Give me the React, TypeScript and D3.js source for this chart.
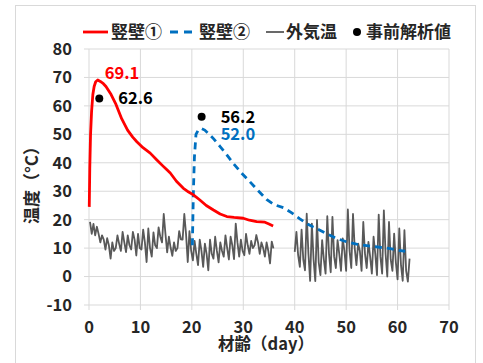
import React from "react";
import * as d3 from "d3";

// ---- data ----
const wall1: [number, number][] = [
  [0.05, 24.5], [0.15, 38], [0.3, 50], [0.5, 58], [0.75, 64], [1.0, 66.8], [1.3, 68.5], [1.7, 69.1],
  [2.2, 68.6], [2.8, 67.8], [3.3, 66.8], [4.3, 64], [5.25, 60.5], [6.35, 55.5], [7.5, 51.5], [8.5, 49],
  [9.3, 47.4], [10.5, 45.3], [11.9, 43.4], [13.2, 41], [14.3, 39], [15.1, 37.6], [15.8, 36.4], [17, 33.5],
  [18.3, 31.1], [19.3, 29.8], [20.3, 28.7], [21.5, 27], [22.8, 25], [24.2, 23.4], [25.5, 22], [26.8, 21.1],
  [28.2, 20.8], [30, 20.5], [31.2, 19.8], [32.6, 19.3], [34.2, 19.1], [35, 18.5], [35.8, 17.8],
];

const wall2: [number, number][] = [
  [20.1, 11], [20.3, 30], [20.5, 42], [20.8, 50], [21.3, 51.7], [21.9, 52.0], [22.5, 51.5], [23.5, 49.8],
  [24.2, 48.5], [25.5, 45.7], [26.5, 43.5], [28, 39.9], [29.6, 36.5], [31.3, 33.3], [33, 30], [34.6, 27],
  [36, 25.3], [37.8, 24.2], [39.5, 22.3], [41, 20.3], [42.5, 18.5], [43.6, 17.4], [45, 16.2], [46.2, 15.1],
  [48, 13.5], [50.1, 12.2], [52, 11.4], [54.7, 10.7], [56.5, 10.3], [58.6, 9.8], [60, 9.3], [61.5, 8.9],
];

// outside air temperature, sampled every 1/3 day
const airStep = 1 / 3;
const air1Start = 0.2;
const air1: number[] = [
  19.2, 15.0, 18.5, 14.5, 17.5, 15.0, 12.0, 14.5, 13.0, 9.5, 13.5, 11.0,
  6.3, 12.0, 9.0, 10.0, 14.5, 11.5, 9.0, 15.7, 12.0, 8.6, 14.5, 11.0,
  9.5, 15.7, 13.0, 7.4, 15.0, 10.0, 9.5, 16.5, 12.0, 5.1, 16.9, 10.0,
  7.0, 15.5, 11.0, 10.0, 17.3, 14.0, 12.0, 22.0, 15.0, 8.5, 14.0, 10.2,
  7.3, 12.0, 9.0, 10.0, 16.0, 13.1, 13.0, 22.0, 15.0, 5.1, 16.0, 9.0,
  5.7, 12.5, 8.0, 4.0, 13.0, 9.0, 3.4, 11.6, 8.0, 2.2, 13.0, 8.0,
  6.3, 14.0, 9.0, 5.0, 12.0, 9.0, 7.0, 14.5, 10.0, 6.0, 14.0, 11.0,
  6.1, 18.6, 12.0, 7.0, 13.0, 9.0, 7.5, 15.0, 11.0, 8.0, 12.5, 10.0,
  11.0, 14.6, 12.0, 8.0, 12.0, 10.0, 7.0, 12.0, 9.0, 4.6, 12.3, 9.9,
];
const air2Start = 40.0;
const air2: number[] = [
  8.7, 15.7, 7.5, 3.4, 16.5, 6.0, 2.2, 22.1, 8.0, -1.5, 18.6, 6.0,
  -1.6, 19.9, 5.0, 0.5, 12.8, 6.0, 1.0, 21.2, 8.0, 1.5, 21.0, 7.0,
  3.0, 12.8, 8.0, 2.0, 13.4, 9.0, 2.0, 23.6, 9.0, 3.0, 22.0, 10.0,
  4.0, 11.6, 9.0, 2.0, 19.2, 8.0, 3.0, 12.2, 7.0, 1.0, 14.0, 8.0,
  0.5, 21.8, 7.0, 1.0, 23.3, 8.0, 0.0, 19.2, 6.0, 2.0, 15.1, 5.0,
  -1.0, 16.9, 4.0, -1.5, 16.3, 2.0, -1.8, 6.3,
];

const analysis: [number, number][] = [[2.0, 62.6], [21.9, 56.2]];

const xTicks = [0, 10, 20, 30, 40, 50, 60, 70];
const yTicks = [-10, 0, 10, 20, 30, 40, 50, 60, 70, 80];
const legendNames = ["竪壁①", "竪壁②", "外気温", "事前解析値"];
const peakLabels = ["69.1", "52.0"];
const analysisLabels = ["62.6", "56.2"];

const W = 483, H = 363;
const FONT = "'Noto Sans CJK JP', 'Noto Sans', sans-serif";
const RED = "#ff0000", BLUE = "#0070c0", GRAY = "#595959", GRID = "#d9d9d9";
const NUM = 16.5;

export default function App() {
  const x = d3.scaleLinear().domain([0, 70]).range([89, 449]);
  const y = d3.scaleLinear().domain([-10, 80]).range([305, 49]);
  const line = d3.line<[number, number]>().x(d => x(d[0])).y(d => y(d[1]));
  const air1Pts: [number, number][] = air1.map((v, i) => [air1Start + i * airStep, v]);
  const air2Pts: [number, number][] = air2.map((v, i) => [air2Start + i * airStep, v]);

  const peak1 = wall1.reduce((a, b) => (b[1] > a[1] ? b : a));
  const peak2 = wall2.reduce((a, b) => (b[1] > a[1] ? b : a));

  return (
    <svg width={W} height={H} style={{ position: "absolute", left: 0, top: 0, background: "#fff" }} fontFamily={FONT}>
      <rect x={15.5} y={5.5} width={460} height={370} fill="#fff" stroke={GRID} strokeWidth={1} />
      {/* grid */}
      {yTicks.map(t => (
        <line key={"gy" + t} x1={x(0) - 5} x2={x(70)} y1={y(t)} y2={y(t)} stroke={GRID} strokeWidth={1} />
      ))}
      {xTicks.map(t => (
        <line key={"gx" + t} x1={x(t)} x2={x(t)} y1={y(80)} y2={y(-10) + 5} stroke={GRID} strokeWidth={1} />
      ))}
      {/* y labels */}
      {yTicks.map(t => (
        <text key={"ly" + t} x={72} y={y(t)} dy="0.36em" textAnchor="end" fontSize={NUM} fontWeight={700} fill="#262626">{t}</text>
      ))}
      {xTicks.map(t => (
        <text key={"lx" + t} x={x(t)} y={333} textAnchor="middle" fontSize={NUM} fontWeight={700} fill="#262626">{t}</text>
      ))}
      <text x={266} y={350} textAnchor="middle" fontSize={16.5} fontWeight={700} fill="#262626">材齢（day）</text>
      <text transform={`translate(38,181) rotate(-90)`} textAnchor="middle" fontSize={17} fontWeight={700} fill="#262626">温度（°C）</text>

      {/* series */}
      <path d={line(air1Pts) || ""} fill="none" stroke={GRAY} strokeWidth={1.8} strokeLinejoin="round" />
      <path d={line(air2Pts) || ""} fill="none" stroke={GRAY} strokeWidth={1.8} strokeLinejoin="round" />
      <path d={line(wall2) || ""} fill="none" stroke={BLUE} strokeWidth={2.8} strokeDasharray="7 5" />
      <path d={line(wall1) || ""} fill="none" stroke={RED} strokeWidth={2.8} strokeLinejoin="round" />
      {analysis.map((d, i) => (
        <circle key={"a" + i} cx={x(d[0])} cy={y(d[1])} r={4} fill="#000" />
      ))}

      {/* data labels */}
      <text x={x(peak1[0]) + 7} y={y(peak1[1]) - 1} fontSize={NUM} fontWeight={700} fill={RED}>{peakLabels[0]}</text>
      <text x={x(peak2[0]) + 19} y={y(peak2[1]) + 11} fontSize={NUM} fontWeight={700} fill={BLUE}>{peakLabels[1]}</text>
      <text x={x(analysis[0][0]) + 19} y={y(analysis[0][1]) + 6} fontSize={NUM} fontWeight={700} fill="#000">{analysisLabels[0]}</text>
      <text x={x(analysis[1][0]) + 19} y={y(analysis[1][1]) + 6} fontSize={NUM} fontWeight={700} fill="#000">{analysisLabels[1]}</text>

      {/* legend */}
      <g fontSize={17} fontWeight={700} fill="#262626">
        <line x1={83} x2={108} y1={32} y2={32} stroke={RED} strokeWidth={2.8} />
        <text x={111} y={38}>{legendNames[0]}</text>
        <line x1={170} x2={197} y1={32} y2={32} stroke={BLUE} strokeWidth={2.8} strokeDasharray="8 6" />
        <text x={199} y={38}>{legendNames[1]}</text>
        <line x1={266} x2={284} y1={32} y2={32} stroke={GRAY} strokeWidth={1.8} />
        <text x={286} y={38}>{legendNames[2]}</text>
        <circle cx={357} cy={32} r={4} fill="#000" />
        <text x={366} y={38}>{legendNames[3]}</text>
      </g>
    </svg>
  );
}
